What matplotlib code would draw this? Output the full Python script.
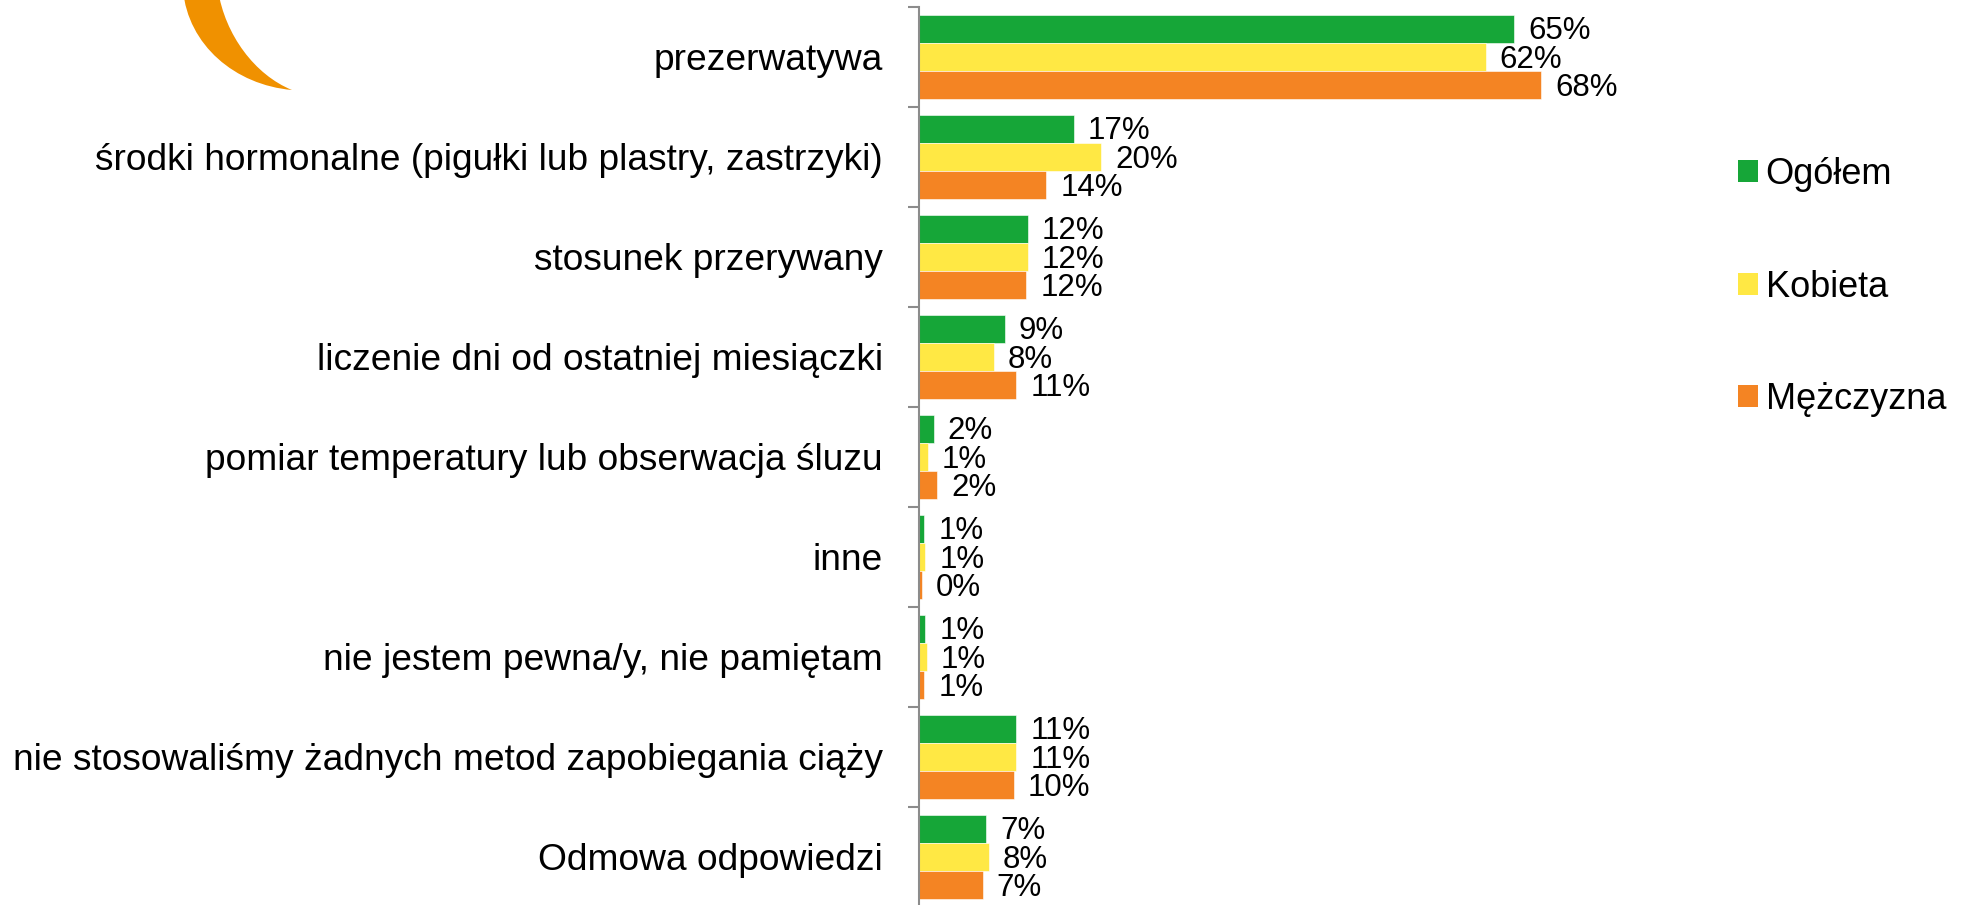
import numpy as np
import matplotlib
matplotlib.use("Agg")
import matplotlib.pyplot as plt
from matplotlib.patches import Patch, PathPatch
from matplotlib.path import Path
from matplotlib.transforms import IdentityTransform

plt.rcParams['font.family'] = ['Liberation Sans', 'DejaVu Sans']

# categories, top to bottom
categories = [
    'prezerwatywa',
    'środki hormonalne (pigułki lub plastry, zastrzyki)',
    'stosunek przerywany',
    'liczenie dni od ostatniej miesiączki',
    'pomiar temperatury lub obserwacja śluzu',
    'inne',
    'nie jestem pewna/y, nie pamiętam',
    'nie stosowaliśmy żadnych metod zapobiegania ciąży',
    'Odmowa odpowiedzi',
]
series = ['Ogółem', 'Kobieta', 'Mężczyzna']

# percent values
ogolem = [65.4, 17.0, 12.0, 9.4, 1.6, 0.6, 0.7, 10.7, 7.4]
kobieta = [62.3, 20.0, 12.0, 8.2, 1.0, 0.7, 0.9, 10.7, 7.7]
mezczyzna = [68.4, 14.0, 11.8, 10.7, 2.0, 0.3, 0.6, 10.4, 7.0]

colors = ['#16A638', '#FFE844', '#F48423']

W, H = 1961, 905
fig = plt.figure(figsize=(W / 100, H / 100), dpi=100)

# axes placed in pixels: left spine at x=919, category pitch 100 px
ax = fig.add_axes([919 / W, 1 - 907 / H, 728 / W, 900 / H])

y = np.arange(len(categories))
bh = 0.283
for i, (vals, col) in enumerate(zip([ogolem, kobieta, mezczyzna], colors)):
    pos = y + (i - 1) * bh
    ax.barh(pos, vals, height=bh, color=col, label=series[i],
            edgecolor='white', linewidth=0.4)
    for p, v in zip(pos, vals):
        ax.annotate('{:.0f}%'.format(v), (v, p), xytext=(10, -2),
                    textcoords='offset points', ha='left', va='center',
                    fontsize=22.5)

ax.set_xlim(0, 80)
ax.set_ylim(len(categories) - 0.5, -0.5)

# tick marks between categories, labels at category centres
ax.set_yticks(np.arange(len(categories) + 1) - 0.5)
ax.set_yticklabels([])
ax.set_yticks(y, minor=True)
ax.set_yticklabels(categories, minor=True, fontsize=26.7)
ax.tick_params(axis='y', which='major', length=8, width=1.5, color='#8c8c8c')
ax.tick_params(axis='y', which='minor', length=0, pad=26)
ax.xaxis.set_visible(False)
for s in ['top', 'right', 'bottom']:
    ax.spines[s].set_visible(False)
ax.spines['left'].set_color('#8c8c8c')
ax.spines['left'].set_linewidth(1.5)

handles = [Patch(facecolor=c, edgecolor='none') for c in colors]
fig.legend(handles, series, loc='center left',
           bbox_to_anchor=(1738 / W, 1 - 287 / H), frameon=False,
           fontsize=26, handlelength=0.554, handleheight=0.554,
           handletextpad=0.21, labelspacing=2.15, borderpad=0,
           borderaxespad=0)

# orange logo fragment at top left
def px(x, yy):
    return (x, H - yy)

verts = [px(183, -10), px(188, 45), px(235, 85), px(292, 90),
         px(255, 75), px(225, 35), px(218, -10), px(183, -10)]
codes = [Path.MOVETO, Path.CURVE4, Path.CURVE4, Path.CURVE4,
         Path.CURVE4, Path.CURVE4, Path.CURVE4, Path.CLOSEPOLY]
fig.patches.append(PathPatch(Path(verts, codes), facecolor='#F09100',
                             edgecolor='none', transform=IdentityTransform()))

fig.savefig('out.png', dpi=100)
